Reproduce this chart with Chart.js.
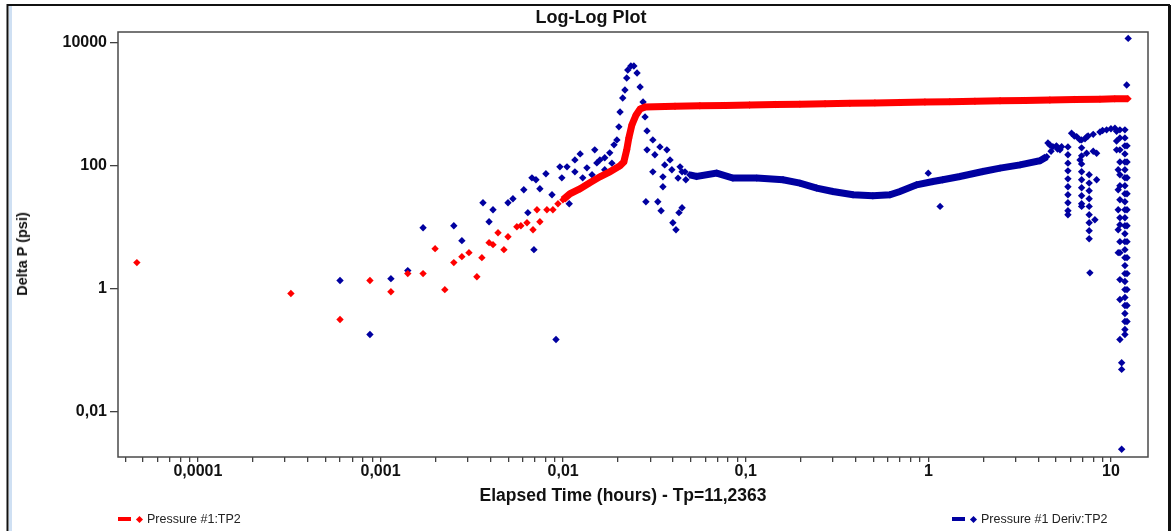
<!DOCTYPE html>
<html>
<head>
<meta charset="utf-8">
<title>Log-Log Plot</title>
<script src="https://cdn.jsdelivr.net/npm/chart.js@4.4.1/dist/chart.umd.min.js"></script>
<style>
    body { margin: 0; background: #fff; }
    #wrap { position: relative; width: 1174px; height: 531px; }
    .lbl { position: absolute; font-family: "Liberation Sans", Arial, sans-serif; font-weight: bold; color: #111; white-space: nowrap; }
    #title { left: 0; width: 1182px; top: 7px; text-align: center; font-size: 18px; }
    #xtitle { left: 0; width: 1246px; top: 485px; text-align: center; font-size: 17.5px; }
    #ytitle { left: 22px; top: 254px; font-size: 14.5px; transform: translate(-50%, -50%) rotate(-90deg); }
    .legend {
        position: absolute; top: 512px; font: 12.5px "Liberation Sans", Arial, sans-serif;
        color: #222; display: flex; align-items: center; white-space: nowrap;
    }
    .legend .dash { width: 13px; height: 4px; margin-right: 6px; }
    .legend .dia { width: 5px; height: 5px; transform: rotate(45deg); margin-right: 5px; }
</style>
</head>
<body>
<div id="wrap">
    <canvas id="loglog-chart"></canvas>
    <div id="title" class="lbl">Log-Log Plot</div>
    <div id="xtitle" class="lbl">Elapsed Time (hours) - Tp=11,2363</div>
    <div id="ytitle" class="lbl">Delta P (psi)</div>
    <div class="legend" style="left:118px"><div class="dash" style="background:#ff0000"></div><div class="dia" style="background:#ff0000"></div>Pressure #1:TP2</div>
    <div class="legend" style="left:952px"><div class="dash" style="background:#0000a0"></div><div class="dia" style="background:#0000a0"></div>Pressure #1 Deriv:TP2</div>
</div>
<script>
// Pressure #1:TP2 - early scattered points
const redSparseT = [4.63e-5, 3.23e-4, 6.0e-4, 8.75e-4, 1.14e-3, 1.41e-3, 1.71e-3, 1.99e-3, 2.25e-3, 2.52e-3,
    2.79e-3, 3.05e-3, 3.37e-3, 3.59e-3, 3.93e-3, 4.13e-3, 4.40e-3, 4.74e-3, 4.99e-3, 5.58e-3,
    5.87e-3, 6.34e-3, 6.84e-3, 7.19e-3, 7.46e-3, 8.15e-3, 8.79e-3, 9.37e-3];
const redSparseP = [2.64, 0.83, 0.315, 1.35, 0.89, 1.75, 1.75, 4.45, 0.96, 2.64,
    3.30, 3.83, 1.56, 3.18, 5.57, 5.17, 8.09, 4.29, 6.96, 10.1,
    10.5, 11.7, 9.04, 19.1, 12.2, 19.1, 19.1, 23.9];

// Pressure #1:TP2 - dense part (reads as a thick band)
const redBandT = [9.98e-3, 0.0109, 0.0124, 0.0140, 0.0159, 0.0180, 0.0205, 0.0215, 0.0223, 0.0229,
    0.0238, 0.0251, 0.0264, 0.0281, 0.0410, 0.0561, 0.0769, 0.105, 0.145, 0.198,
    0.272, 0.372, 0.510, 0.699, 0.958, 1.31, 1.80, 2.47, 3.38, 4.63,
    6.35, 8.71, 10.5, 12.4];
const redBandP = [27.7, 34.7, 41.8, 52.3, 65.3, 78.7, 98.6, 114, 179, 280,
    455, 661, 826, 891, 915, 930, 944, 958, 974, 989,
    1004, 1020, 1036, 1053, 1070, 1086, 1103, 1121, 1138, 1157,
    1174, 1192, 1205, 1214];

// Pressure #1 Deriv:TP2 - smooth stretch
const blueBandT = [0.0494, 0.0538, 0.0693, 0.0851, 0.115, 0.160, 0.198, 0.245, 0.300, 0.387,
    0.497, 0.616, 0.699, 0.863, 1.06, 1.20, 1.49, 1.99, 2.47, 3.18, 4.09, 4.45];
const blueBandP = [70.4, 66.1, 75.0, 62.3, 62.3, 58.4, 51.7, 42.9, 37.8, 33.4,
    32.2, 33.4, 37.8, 48.5, 54.8, 58.4, 66.1, 79.6, 90.4, 102, 119, 138];

// Pressure #1 Deriv:TP2 - scattered points
const blueScatterT = [
    6.0e-4, 8.75e-4, 1.14e-3, 1.41e-3, 1.71e-3, 2.52e-3, 2.79e-3, 3.64e-3, 3.93e-3, 4.13e-3,
    4.99e-3, 5.31e-3, 6.09e-3, 6.41e-3, 6.75e-3, 6.92e-3, 7.10e-3, 7.46e-3, 8.05e-3, 8.69e-3,
    9.14e-3, 9.60e-3, 9.84e-3, 0.0105, 0.0108, 0.0116, 0.0116, 0.0124, 0.0128, 0.0135,
    0.0144, 0.0149, 0.0153, 0.0159, 0.0169, 0.0169, 0.0180, 0.0185, 0.0190, 0.0197,
    0.0202, 0.0205, 0.0212, 0.0218, 0.0223, 0.0226, 0.0235, 0.0244, 0.0254, 0.0264,
    0.0274, 0.0281, 0.0288, 0.0288, 0.0284, 0.0310, 0.0310, 0.0318, 0.0330, 0.0339,
    0.0344, 0.0352, 0.0352, 0.0360, 0.0370, 0.0385, 0.0394, 0.0399, 0.0415, 0.0426,
    0.0431, 0.0437, 0.0448, 0.0448, 0.0465, 0.0470,
    0.999, 1.16,
    4.52, 4.63, 4.70, 4.81, 5.03, 5.10, 5.26, 5.37,
    5.815, 5.815, 5.815, 5.815, 5.815, 5.815, 5.815, 5.815, 5.815, 5.815,
    6.09, 6.30, 6.49, 6.77, 6.77,
    6.91, 6.91, 6.91, 6.91, 6.91, 6.91, 6.91, 6.91, 6.91, 6.91,
    7.21, 7.36, 7.36, 7.50,
    7.60, 7.60, 7.60, 7.60, 7.60, 7.60, 7.60, 7.60, 7.60, 7.67,
    8.00, 8.00, 8.17, 8.35, 8.35, 8.71, 9.00, 9.47, 10.0, 10.52, 10.74, 10.74, 10.74,
    10.96, 10.96, 10.96, 10.96, 10.96,
    11.2, 11.2, 11.2, 11.2, 11.2, 11.2, 11.2, 11.2, 11.2, 11.2, 11.2, 11.2, 11.2, 11.2,
    11.45, 11.45, 11.45,
    11.93, 11.93, 11.93, 11.93, 11.93, 11.93, 11.93, 11.93, 11.93, 11.93,
    11.93, 11.93, 11.93, 11.93, 11.93, 11.93, 11.93, 11.93, 11.93, 11.93,
    11.93, 11.93, 11.93, 11.93, 11.93, 11.93, 11.93,
    12.25, 12.25, 12.25, 12.25, 12.25, 12.25, 12.25, 12.25, 12.25, 12.25, 12.25, 12.25,
    12.2, 12.43];
const blueScatterP = [
    1.35, 0.18, 1.45, 1.96, 9.74, 10.5, 6.0, 24.8, 12.2, 19.1,
    24.8, 28.7, 40.2, 17.1, 62.9, 4.29, 58.4, 41.8, 73.1, 33.4,
    0.149, 94.9, 62.9, 94.9, 23.9, 78.7, 123, 154, 62.9, 91.4,
    70.4, 179, 110, 123, 84.9, 133, 160, 109, 216, 260,
    423, 739, 1247, 1679, 2630, 3540, 4110, 4110, 3170, 1879,
    1074, 614, 364, 179, 25.7, 260, 78.7, 149, 25.7, 200,
    18.4, 65.3, 45, 102, 179, 123, 84.9, 11.7, 9.04, 62.3,
    17.1, 94.9, 20.5, 78.7, 78.7, 58.4,
    75.0, 21.6,
    232, 215, 170, 202, 208, 185, 180, 202,
    200, 149, 109, 81.7, 60.6, 45.0, 33.4, 24.8, 18.4, 15.8,
    334, 300, 294, 123, 260,
    260, 193, 143, 106, 78.8, 58.4, 43.4, 32.2, 23.9, 21.6,
    270, 158, 290, 300,
    70.4, 51.7, 38.8, 28.7, 21.6, 15.8, 11.7, 8.71, 6.46, 1.80,
    320, 170, 13.1, 58.4, 158, 350, 370, 378, 395, 402, 360, 250, 179,
    84.9, 40.2, 19.1, 9.04, 3.83,
    378, 280, 179, 114, 70.4, 46.7, 27.7, 14.1, 10.9, 5.78, 3.83, 1.40, 0.663, 0.149,
    0.0625, 0.0487, 0.00246,
    378, 280, 208, 154, 114, 84.9, 63.0, 46.7, 34.6, 25.7,
    19.1, 14.1, 10.5, 7.79, 5.78, 4.29, 3.18, 2.36, 1.75, 1.30,
    0.963, 0.715, 0.530, 0.393, 0.292, 0.217, 0.180,
    208, 114, 63.0, 34.6, 19.1, 10.5, 5.78, 3.18, 1.75, 0.963, 0.530, 0.292,
    2025, 11570];

// Axis ticks
const xMajorTicks = [0.0001, 0.001, 0.01, 0.1, 1, 10];
const xMajorLabels = ['0,0001', '0,001', '0,01', '0,1', '1', '10'];
const yTicks = [0.01, 1, 100, 10000];
const yLabels = ['0,01', '1', '100', '10000'];

const RED = '#ff0000';
const BLUE = '#0000a0';
const FONT = '"Liberation Sans", Arial, sans-serif';

function toPoints(ts, ps) {
    return ts.map((t, i) => ({ x: t, y: ps[i] }));
}

// Minor ticks at 2..9 x 10^n between the major ones
function logTicks(min, max) {
    const ticks = [];
    for (let e = -5; e <= 2; e++) {
        for (let m = 1; m <= 9; m++) {
            const v = m * Math.pow(10, e);
            if (v >= min && v <= max) ticks.push({ value: v });
        }
    }
    return ticks;
}

// Plot box + outer frame
const framePlugin = {
    id: 'frame',
    afterDraw(chart) {
        const { ctx, chartArea: a } = chart;
        ctx.save();
        ctx.strokeStyle = '#4a4a4a';
        ctx.lineWidth = 1.5;
        ctx.strokeRect(a.left, a.top, a.right - a.left, a.bottom - a.top);
        ctx.strokeStyle = '#cfe0f3';
        ctx.lineWidth = 3;
        ctx.beginPath(); ctx.moveTo(10.5, 6); ctx.lineTo(10.5, 531); ctx.stroke();
        ctx.strokeStyle = '#111';
        ctx.lineWidth = 2;
        ctx.beginPath();
        ctx.moveTo(7.5, 531); ctx.lineTo(7.5, 5); ctx.lineTo(1170, 5);
        ctx.stroke();
        ctx.lineWidth = 3;
        ctx.beginPath(); ctx.moveTo(1169.5, 5); ctx.lineTo(1169.5, 531); ctx.stroke();
        ctx.restore();
    }
};

const pointOpts = { pointStyle: 'rectRot', pointRadius: 3.7, pointBorderWidth: 0, pointHoverRadius: 3.7 };

new Chart(document.getElementById('loglog-chart'), {
    type: 'scatter',
    data: {
        datasets: [
            { label: 'Pressure #1:TP2', data: toPoints(redBandT, redBandP), showLine: true,
              borderColor: RED, backgroundColor: RED, borderWidth: 7, ...pointOpts },
            { label: 'Pressure #1:TP2', data: toPoints(redSparseT, redSparseP),
              borderColor: RED, backgroundColor: RED, ...pointOpts },
            { label: 'Pressure #1 Deriv:TP2', data: toPoints(blueBandT, blueBandP), showLine: true,
              borderColor: BLUE, backgroundColor: BLUE, borderWidth: 7, ...pointOpts },
            { label: 'Pressure #1 Deriv:TP2', data: toPoints(blueScatterT, blueScatterP),
              borderColor: BLUE, backgroundColor: BLUE, ...pointOpts }
        ]
    },
    options: {
        responsive: true,
        maintainAspectRatio: false,
        animation: false,
        layout: { padding: { top: 32, right: 26, bottom: 22, left: 0 } },
        plugins: { legend: { display: false }, tooltip: { enabled: false } },
        scales: {
            x: {
                type: 'logarithmic',
                min: 3.65e-5,
                max: 15.96,
                afterFit: (scale) => { scale.height = 52; },
                afterBuildTicks: (scale) => { scale.ticks = logTicks(scale.min, scale.max); },
                grid: { drawOnChartArea: false, drawTicks: true, tickLength: 5, color: '#404040', lineWidth: 1.3 },
                border: { display: false },
                ticks: {
                    autoSkip: false, maxRotation: 0, padding: 0, color: '#111',
                    font: { family: FONT, size: 16, weight: 'bold' },
                    callback: (value) => {
                        const i = xMajorTicks.findIndex(v => Math.abs(v - value) / v < 1e-6);
                        return i >= 0 ? xMajorLabels[i] : '';
                    }
                }
            },
            y: {
                type: 'logarithmic',
                min: 0.00184,
                max: 14690,
                afterFit: (scale) => { scale.width = 118; },
                afterBuildTicks: (scale) => { scale.ticks = yTicks.map(v => ({ value: v })); },
                grid: { drawOnChartArea: false, drawTicks: true, tickLength: 8, color: '#404040', lineWidth: 1.3 },
                border: { display: false },
                ticks: {
                    autoSkip: false, padding: 3, color: '#111',
                    font: { family: FONT, size: 16, weight: 'bold' },
                    callback: (value) => {
                        const i = yTicks.findIndex(v => Math.abs(v - value) / v < 1e-6);
                        return i >= 0 ? yLabels[i] : '';
                    }
                }
            }
        }
    },
    plugins: [framePlugin]
});
</script>
</body>
</html>
